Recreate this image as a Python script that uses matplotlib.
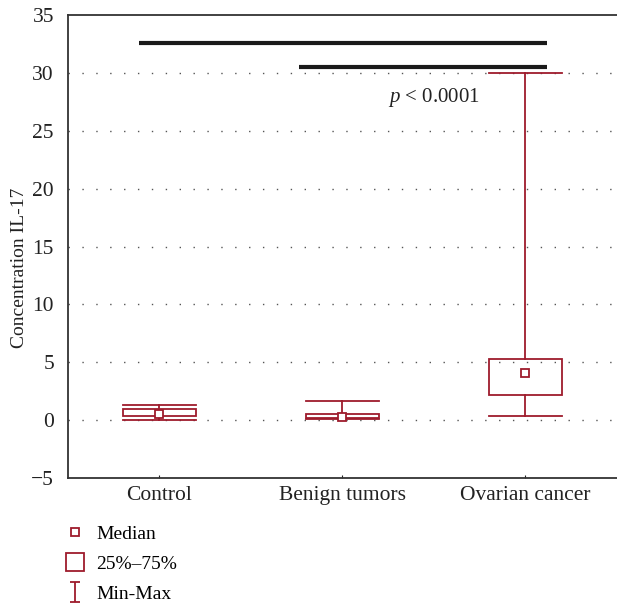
import numpy as np
import matplotlib
matplotlib.use("Agg")
import matplotlib.pyplot as plt
from matplotlib.lines import Line2D
from matplotlib.path import Path

# Datos
grupos = ["Control", "Benign tumors", "Ovarian cancer"]
minimo = [0.03, 0.06, 0.35]
q25 = [0.37, 0.15, 2.13]
mediana = [0.54, 0.23, 4.09]
q75 = [0.95, 0.52, 5.24]
maximo = [1.30, 1.67, 30.0]

# barras de significancia: (inicio, fin, altura)
sig_x1 = [-0.11, 0.76]
sig_x2 = [2.12, 2.12]
sig_y = [32.6, 30.5]
texto_p = "$p$ < 0.0001"

rojo = "#9e1b2c"
plt.rcParams["font.family"] = ["Liberation Serif", "DejaVu Serif"]
plt.rcParams["mathtext.fontset"] = "custom"
plt.rcParams["mathtext.it"] = "Liberation Serif:italic"

fig = plt.figure(figsize=(6.17, 6.05), dpi=100)
ax = fig.add_axes([0.110, 0.210, 0.89, 0.765])

pos = np.arange(len(grupos))
ancho_caja = 0.40
ancho_cap = 0.20

# lineas de cuadricula punteadas
for v in range(0, 31, 5):
    ax.axhline(v, color="#555555", lw=1.0, ls=(0, (1, 9)), zorder=0)

for i in pos:
    # bigotes
    ax.plot([i, i], [q75[i], maximo[i]], color=rojo, lw=1.3)
    ax.plot([i, i], [minimo[i], q25[i]], color=rojo, lw=1.3)
    ax.plot([i - ancho_cap, i + ancho_cap], [maximo[i], maximo[i]], color=rojo, lw=1.3)
    ax.plot([i - ancho_cap, i + ancho_cap], [minimo[i], minimo[i]], color=rojo, lw=1.3)
    # caja
    ax.add_patch(plt.Rectangle((i - ancho_caja / 2, q25[i]), ancho_caja, q75[i] - q25[i],
                               fill=False, edgecolor=rojo, lw=1.3))
    # mediana
    ax.plot(i, mediana[i], marker="s", ms=6, mfc="white", mec=rojo, mew=1.3, zorder=5)

for a, b, h in zip(sig_x1, sig_x2, sig_y):
    ax.plot([a, b], [h, h], color="#1a1a1a", lw=3, solid_capstyle="butt")

ax.text(1.50, 27.9, texto_p, fontsize=15, ha="center", va="center", color="#222222")

ax.set_xlim(-0.5, 2.5)
ax.set_ylim(-5, 35)
ax.set_xticks(pos)
ax.set_xticklabels(grupos, fontsize=15.5)
ax.set_yticks(range(-5, 36, 5))
ax.set_yticklabels(["\u22125"] + [str(v) for v in range(0, 36, 5)], fontsize=15.5)
ax.tick_params(axis="y", length=0, pad=10, colors="#222222")
ax.tick_params(axis="x", direction="in", length=2, pad=6, colors="#222222")
ax.spines["right"].set_visible(False)
for s in ["left", "bottom", "top"]:
    ax.spines[s].set_linewidth(1.3)
    ax.spines[s].set_color("#333333")
ax.set_ylabel("Concentration IL-17", fontsize=14, color="#222222")
ax.yaxis.set_label_coords(-0.072, 0.455)

# leyenda
ruta_minmax = Path([(-0.5, 1), (0.5, 1), (0, 1), (0, -1), (-0.5, -1), (0.5, -1)],
                   [Path.MOVETO, Path.LINETO, Path.MOVETO, Path.LINETO, Path.MOVETO, Path.LINETO])
manijas = [
    Line2D([], [], ls="none", marker="s", ms=6, mfc="white", mec=rojo, mew=1.3),
    Line2D([], [], ls="none", marker="s", ms=13, mfc="white", mec=rojo, mew=1.3),
    Line2D([], [], ls="none", marker=ruta_minmax, ms=14, mfc="none", mec=rojo, mew=1.3),
]
fig.legend(manijas, ["Median", "25%\u201375%", "Min-Max"], loc="upper left",
           bbox_to_anchor=(0.090, 0.144), frameon=False, fontsize=14,
           handletextpad=0.5, labelspacing=0.62, handlelength=1.2, borderaxespad=0)

fig.savefig("out.png", dpi=100)
